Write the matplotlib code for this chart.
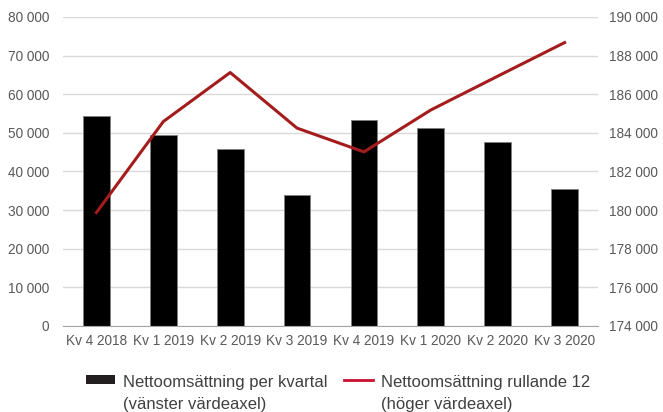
import matplotlib
matplotlib.use("Agg")
import matplotlib.pyplot as plt
from matplotlib.ticker import FuncFormatter
from matplotlib.patches import Patch
from matplotlib.lines import Line2D
from matplotlib.legend_handler import HandlerPatch, HandlerLine2D

plt.rcParams['font.family'] = ['Liberation Sans', 'DejaVu Sans']

# data
kvartal = ["Kv 4 2018", "Kv 1 2019", "Kv 2 2019", "Kv 3 2019",
           "Kv 4 2019", "Kv 1 2020", "Kv 2 2020", "Kv 3 2020"]
per_kvartal = [54450, 49370, 45830, 34000, 53250, 51340, 47720, 35550]
rullande_12 = [179870, 184580, 187120, 184240, 183010, 185180, 186930, 188670]

def space_fmt(v, pos):
    return f"{int(v):,}".replace(",", " ")

# legend handles sit next to the first text line, not the middle
SHIFT = 10

class TopPatch(HandlerPatch):
    def create_artists(self, legend, orig_handle, xdescent, ydescent, width, height, fontsize, trans):
        return super().create_artists(legend, orig_handle, xdescent, ydescent - SHIFT,
                                      width, height, fontsize, trans)

class TopLine(HandlerLine2D):
    def create_artists(self, legend, orig_handle, xdescent, ydescent, width, height, fontsize, trans):
        return super().create_artists(legend, orig_handle, xdescent, ydescent - 2 * SHIFT,
                                      width, height, fontsize, trans)

fig = plt.figure(figsize=(6.63, 4.12), dpi=100)
ax = fig.add_axes([0.095, 0.209, 0.807, 0.75])
x = range(len(kvartal))

ax.bar(x, per_kvartal, width=0.4, color="black", edgecolor="#7f7f7f", linewidth=0.6, zorder=2)
ax.set_ylim(0, 80000)
ax.set_yticks(range(0, 80001, 10000))
ax.yaxis.set_major_formatter(FuncFormatter(space_fmt))
ax.set_xlim(-0.5, len(kvartal) - 0.5)
ax.set_xticks(list(x))
ax.set_xticklabels(kvartal)
ax.grid(axis="y", color="#d9d9d9", linewidth=1, zorder=0)
ax.set_axisbelow(True)
for s in ["top", "left", "right"]:
    ax.spines[s].set_visible(False)
ax.spines["bottom"].set_color("#a6a6a6")
ax.tick_params(axis="both", length=0, labelsize=9.8, colors="#595959")
ax.tick_params(axis="y", pad=10)
ax.tick_params(axis="x", pad=6)

ax2 = ax.twinx()
ax2.plot(x, rullande_12, color="#a51c1c", linewidth=2.2, zorder=3)
ax2.set_ylim(174000, 190000)
ax2.set_yticks(range(174000, 190001, 2000))
ax2.yaxis.set_major_formatter(FuncFormatter(space_fmt))
for s in ["top", "left", "right", "bottom"]:
    ax2.spines[s].set_visible(False)
ax2.tick_params(axis="y", length=0, labelsize=9.8, colors="#595959", pad=8)

handles = [Patch(facecolor="#231f20", edgecolor="none"),
           Line2D([0], [0], color="#c8102e", linewidth=2)]
labels = ["Nettoomsättning per kvartal\n(vänster värdeaxel)",
          "Nettoomsättning rullande 12\n(höger värdeaxel)"]
leg = fig.legend(handles, labels, loc="center", bbox_to_anchor=(0.51, 0.045),
                 ncol=2, frameon=False, fontsize=12, handlelength=1.75,
                 handleheight=0.45, columnspacing=1.0, handletextpad=0.45,
                 handler_map={Patch: TopPatch(), Line2D: TopLine()})
for t in leg.get_texts():
    t.set_color("#404040")
    t.set_linespacing(1.6)

fig.savefig("out.png", dpi=100)
